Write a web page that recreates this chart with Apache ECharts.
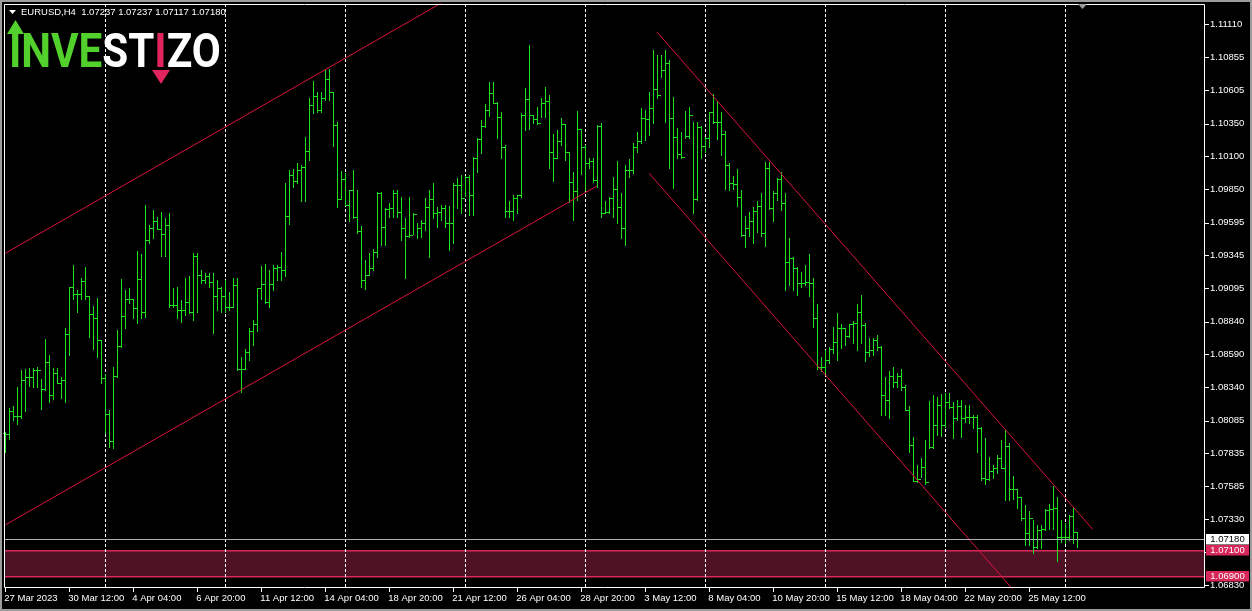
<!DOCTYPE html>
<html><head><meta charset="utf-8">
<script src="https://cdn.jsdelivr.net/npm/echarts@6/dist/echarts.min.js"></script>
<style>html,body{margin:0;padding:0;background:#000;}#c{width:1252px;height:611px;}</style>
</head><body><div id="c"></div>
<script>
// ---- data (EURUSD H4) ----
const symbolName = 'EURUSD,H4';
const highs = [1.07997,1.08180,1.08196,1.08341,1.08470,1.08478,1.08486,1.08486,1.08493,1.08402,
1.08707,1.08585,1.08486,1.08486,1.08417,1.08791,1.09104,1.09271,1.09081,1.09172,
1.09256,1.09035,1.08959,1.09020,1.08699,1.08440,1.08165,1.08493,1.08776,1.09165,
1.09081,1.09096,1.09012,1.09378,1.09355,1.09729,1.09577,1.09691,1.09638,1.09676,
1.09630,1.09668,1.09096,1.09104,1.09004,1.09172,1.09188,1.09363,1.09363,1.09233,
1.09210,1.09210,1.09210,1.09157,1.09104,1.09157,1.09065,1.09172,1.09172,1.08570,
1.08631,1.08791,1.08852,1.09096,1.09264,1.09279,1.09233,1.09271,1.09271,1.09371,
1.09897,1.09996,1.10004,1.10050,1.10034,1.10248,1.10546,1.10675,1.10591,1.10591,
1.10759,1.10767,1.10591,1.10362,1.09989,1.09973,1.09844,1.09996,1.09844,1.09569,
1.09310,1.09363,1.09394,1.09828,1.09828,1.09706,1.09744,1.09844,1.09844,1.09790,
1.09630,1.09790,1.09668,1.09592,1.09615,1.09783,1.09844,1.09897,1.09714,1.09729,
1.09729,1.09722,1.09897,1.09935,1.09958,1.09950,1.09958,1.10095,1.10240,1.10378,
1.10500,1.10668,1.10668,1.10515,1.10439,1.10187,1.09760,1.09805,1.09805,1.10431,
1.10622,1.10950,1.10416,1.10477,1.10546,1.10629,1.10568,1.10271,1.10301,1.10393,
1.10347,1.10134,1.09981,1.10446,1.10309,1.10187,1.10088,1.10088,1.10340,1.10355,
1.09760,1.09790,1.09943,1.10065,1.09821,1.10034,1.10080,1.10202,1.10286,1.10469,
1.10454,1.10591,1.10912,1.10874,1.10874,1.10912,1.10835,1.10553,1.10317,1.10286,
1.10446,1.10477,1.10362,1.10362,1.10332,1.10248,1.10439,1.10576,1.10523,1.10439,
1.10294,1.10050,1.09950,1.10004,1.09844,1.09645,1.09676,1.09714,1.09760,1.09821,
1.10057,1.10057,1.09836,1.09935,1.09981,1.09821,1.09477,1.09332,1.09256,1.09218,
1.09271,1.09355,1.09172,1.08974,1.08570,1.08623,1.08646,1.08798,1.08905,1.08821,
1.08791,1.08821,1.08844,1.08974,1.09043,1.08829,1.08715,1.08715,1.08737,1.08653,
1.08417,1.08463,1.08493,1.08448,1.08478,1.08356,1.08196,1.07959,1.07746,1.07799,
1.07936,1.08234,1.08280,1.08264,1.08287,1.08295,1.08295,1.08226,1.08241,1.08241,
1.08203,1.08203,1.08127,1.08127,1.08036,1.07952,1.07807,1.07746,1.07822,1.07936,
1.08013,1.07914,1.07662,1.07563,1.07502,1.07440,1.07395,1.07326,1.07288,1.07288,
1.07410,1.07448,1.07585,1.07502,1.07326,1.07303,1.07364,1.07425,1.07237];
const lows = [1.07845,1.07944,1.08089,1.08058,1.08104,1.08158,1.08348,1.08341,1.08341,1.08173,
1.08318,1.08226,1.08249,1.08371,1.08257,1.08226,1.08585,1.09012,1.08913,1.09012,
1.09012,1.08722,1.08631,1.08570,1.08371,1.07990,1.07883,1.07875,1.08417,1.08646,
1.08791,1.08982,1.08867,1.08829,1.08867,1.08875,1.09439,1.09477,1.09546,1.09340,
1.09340,1.08951,1.08951,1.08867,1.08837,1.08890,1.08905,1.08852,1.08913,1.09134,
1.09134,1.09104,1.08753,1.08928,1.08913,1.08913,1.08928,1.08951,1.08470,1.08303,
1.08478,1.08547,1.08661,1.08768,1.09012,1.08982,1.08951,1.09081,1.09157,1.09157,
1.09188,1.09584,1.09866,1.09897,1.09760,1.09760,1.10072,1.10431,1.10439,1.10439,
1.10530,1.10530,1.10179,1.09714,1.09775,1.09729,1.09607,1.09630,1.09516,1.09104,
1.09088,1.09195,1.09233,1.09332,1.09424,1.09424,1.09638,1.09638,1.09638,1.09462,
1.09172,1.09485,1.09508,1.09477,1.09485,1.09538,1.09332,1.09630,1.09561,1.09615,
1.09561,1.09386,1.09439,1.09706,1.09668,1.09798,1.09653,1.09653,1.09981,1.10126,
1.10324,1.10408,1.10507,1.10240,1.10088,1.09638,1.09638,1.09615,1.09668,1.09790,
1.10301,1.10309,1.10355,1.10347,1.10400,1.10400,1.10011,1.09912,1.10088,1.10187,
1.10072,1.09752,1.09615,1.09767,1.09966,1.09844,1.10011,1.09905,1.09866,1.09638,
1.09668,1.09668,1.09638,1.09592,1.09477,1.09424,1.09943,1.09973,1.10134,1.10202,
1.10225,1.10263,1.10355,1.10546,1.10706,1.10362,1.10011,1.09859,1.10088,1.10088,
1.10240,1.10240,1.09668,1.09767,1.10088,1.10134,1.10172,1.10355,1.10233,1.10111,
1.09851,1.09844,1.09851,1.09722,1.09493,1.09409,1.09493,1.09439,1.09523,1.09493,
1.09416,1.09699,1.09607,1.09767,1.09691,1.09081,1.09119,1.09081,1.09043,1.09104,
1.09119,1.09035,1.08798,1.08478,1.08463,1.08448,1.08524,1.08600,1.08547,1.08638,
1.08661,1.08722,1.08676,1.08623,1.08676,1.08539,1.08577,1.08585,1.08623,1.08127,
1.08127,1.08104,1.08341,1.08341,1.08318,1.08165,1.07845,1.07624,1.07616,1.07654,
1.07601,1.07875,1.07875,1.07975,1.07967,1.08036,1.08180,1.07952,1.08089,1.07959,
1.08074,1.08066,1.08028,1.07845,1.07631,1.07601,1.07631,1.07646,1.07685,1.07723,
1.07479,1.07479,1.07486,1.07418,1.07326,1.07135,1.07135,1.07074,1.07112,1.07112,
1.07250,1.07257,1.07257,1.07013,1.07158,1.07151,1.07173,1.07151,1.07117];
const closes = [1.07982,1.08158,1.08119,1.08119,1.08394,1.08417,1.08417,1.08470,1.08470,1.08325,
1.08531,1.08280,1.08448,1.08371,1.08394,1.08745,1.09104,1.09050,1.09050,1.09149,
1.09035,1.08898,1.08867,1.08699,1.08409,1.08135,1.07929,1.08425,1.08653,1.08882,
1.09012,1.09012,1.08943,1.09165,1.08913,1.09462,1.09554,1.09607,1.09546,1.09508,
1.09577,1.08966,1.08966,1.08928,1.08928,1.08989,1.08913,1.09340,1.09195,1.09157,
1.09188,1.09142,1.09035,1.09096,1.09035,1.08951,1.08951,1.09119,1.08478,1.08478,
1.08608,1.08768,1.08821,1.09096,1.09126,1.08989,1.09126,1.09249,1.09256,1.09233,
1.09645,1.09958,1.09912,1.09996,1.10019,1.10141,1.10492,1.10561,1.10454,1.10546,
1.10690,1.10591,1.10340,1.09775,1.09928,1.09729,1.09844,1.09638,1.09531,1.09157,
1.09195,1.09249,1.09371,1.09821,1.09561,1.09699,1.09706,1.09821,1.09676,1.09554,
1.09493,1.09500,1.09661,1.09554,1.09592,1.09714,1.09775,1.09668,1.09676,1.09706,
1.09592,1.09592,1.09882,1.09882,1.09783,1.09943,1.09805,1.10088,1.10233,1.10332,
1.10454,1.10584,1.10507,1.10400,1.10172,1.09683,1.09683,1.09783,1.09805,1.10416,
1.10538,1.10416,1.10385,1.10355,1.10507,1.10523,1.10134,1.10088,1.10217,1.10347,
1.10134,1.09905,1.09836,1.10309,1.10172,1.10050,1.10065,1.09920,1.10332,1.09668,
1.09676,1.09783,1.09851,1.09714,1.09554,1.09996,1.09996,1.10172,1.10217,1.10393,
1.10385,1.10469,1.10614,1.10568,1.10759,1.10813,1.10393,1.10248,1.10118,1.10095,
1.10256,1.10416,1.09775,1.10324,1.10179,1.10240,1.10439,1.10362,1.10362,1.10271,
1.10034,1.09897,1.09889,1.09790,1.09500,1.09554,1.09607,1.09683,1.09722,1.09516,
1.10011,1.09706,1.09821,1.09928,1.09744,1.09294,1.09325,1.09249,1.09134,1.09134,
1.09142,1.09134,1.08867,1.08493,1.08493,1.08547,1.08631,1.08684,1.08791,1.08791,
1.08730,1.08821,1.08829,1.08913,1.08814,1.08608,1.08623,1.08699,1.08646,1.08280,
1.08241,1.08425,1.08379,1.08425,1.08341,1.08165,1.07898,1.07624,1.07639,1.07730,
1.07616,1.07883,1.08051,1.08203,1.08051,1.08226,1.08188,1.08104,1.08196,1.08104,
1.08112,1.08112,1.08112,1.08028,1.07646,1.07639,1.07700,1.07723,1.07799,1.07723,
1.07891,1.07563,1.07563,1.07502,1.07341,1.07227,1.07341,1.07120,1.07250,1.07257,
1.07402,1.07410,1.07418,1.07196,1.07196,1.07196,1.07357,1.07237,1.07180];
const opens = [1.07990,1.07982,1.08158,1.08119,1.08119,1.08394,1.08417,1.08417,1.08470,1.08470,
1.08325,1.08531,1.08280,1.08448,1.08371,1.08394,1.08745,1.09104,1.09050,1.09050,
1.09149,1.09035,1.08898,1.08867,1.08699,1.08409,1.08135,1.07929,1.08425,1.08653,
1.08882,1.09012,1.09012,1.08943,1.09165,1.08913,1.09462,1.09554,1.09607,1.09546,
1.09508,1.09577,1.08966,1.08966,1.08928,1.08928,1.08989,1.08913,1.09340,1.09195,
1.09157,1.09188,1.09142,1.09035,1.09096,1.09035,1.08951,1.08951,1.09119,1.08478,
1.08478,1.08608,1.08768,1.08821,1.09096,1.09126,1.08989,1.09126,1.09249,1.09256,
1.09233,1.09645,1.09958,1.09912,1.09996,1.10019,1.10141,1.10492,1.10561,1.10454,
1.10546,1.10690,1.10591,1.10340,1.09775,1.09928,1.09729,1.09844,1.09638,1.09531,
1.09157,1.09195,1.09249,1.09371,1.09821,1.09561,1.09699,1.09706,1.09821,1.09676,
1.09554,1.09493,1.09500,1.09661,1.09554,1.09592,1.09714,1.09775,1.09668,1.09676,
1.09706,1.09592,1.09592,1.09882,1.09882,1.09783,1.09943,1.09805,1.10088,1.10233,
1.10332,1.10454,1.10584,1.10507,1.10400,1.10172,1.09683,1.09683,1.09783,1.09805,
1.10416,1.10538,1.10416,1.10385,1.10355,1.10507,1.10523,1.10134,1.10088,1.10217,
1.10347,1.10134,1.09905,1.09836,1.10309,1.10172,1.10050,1.10065,1.09920,1.10332,
1.09668,1.09676,1.09783,1.09851,1.09714,1.09554,1.09996,1.09996,1.10172,1.10217,
1.10393,1.10385,1.10469,1.10614,1.10568,1.10759,1.10813,1.10393,1.10248,1.10118,
1.10095,1.10256,1.10416,1.09775,1.10324,1.10179,1.10240,1.10439,1.10362,1.10362,
1.10271,1.10034,1.09897,1.09889,1.09790,1.09500,1.09554,1.09607,1.09683,1.09722,
1.09516,1.10011,1.09706,1.09821,1.09928,1.09744,1.09294,1.09325,1.09249,1.09134,
1.09134,1.09142,1.09134,1.08867,1.08493,1.08493,1.08547,1.08631,1.08684,1.08791,
1.08791,1.08730,1.08821,1.08829,1.08913,1.08814,1.08608,1.08623,1.08699,1.08646,
1.08280,1.08241,1.08425,1.08379,1.08425,1.08341,1.08165,1.07898,1.07624,1.07639,
1.07730,1.07616,1.07883,1.08051,1.08203,1.08051,1.08226,1.08188,1.08104,1.08196,
1.08104,1.08112,1.08112,1.08112,1.08028,1.07646,1.07639,1.07700,1.07723,1.07799,
1.07723,1.07891,1.07563,1.07563,1.07502,1.07341,1.07227,1.07341,1.07120,1.07250,
1.07257,1.07402,1.07410,1.07418,1.07196,1.07196,1.07196,1.07357,1.07237];

const xTickIndex = [0,16,32,48,64,80,96,112,128,144,160,176,192,208,224,240,256];
const xTickLabels = ['27 Mar 2023','30 Mar 12:00','4 Apr 04:00','6 Apr 20:00','11 Apr 12:00','14 Apr 04:00',
 '18 Apr 20:00','21 Apr 12:00','26 Apr 04:00','28 Apr 20:00','3 May 12:00','8 May 04:00','10 May 20:00',
 '15 May 12:00','18 May 04:00','22 May 20:00','25 May 12:00'];
const yTicks = [1.11110,1.10855,1.10605,1.10350,1.10100,1.09850,1.09595,1.09345,1.09095,
 1.08840,1.08590,1.08340,1.08085,1.07835,1.07585,1.07330,1.07080,1.06830];
const vGridIndex = [25,55,85,115,145,175,205,235,265];
const channelUpperAsc = [[0,1.09361],[110,1.11288]];
const channelLowerAsc = [[0,1.07288],[147.9,1.09874]];
const channelUpperDesc = [[162.85,1.11051],[271.85,1.07255]];
const channelLowerDesc = [[160.98,1.09971],[252,1.06792]];
const zoneTop = 1.07100, zoneBottom = 1.06900, bidPrice = 1.07180;

// ---- styles ----
const BAR = '#1ee21e', CRIMSON = '#dc143c', ZONE_FILL = '#4f1224', ZONE_LINE = '#d8285a', BID = '#a9b0b7';
const FONT = '"Liberation Sans", Arial, sans-serif';

const bars = highs.map((h, i) => [i, opens[i], closes[i], lows[i], h]);
const last = bars.length - 1;
const header = symbolName + '  ' + [opens[last], highs[last], lows[last], closes[last]].map(v => v.toFixed(5)).join(' ');

function barItem(params, api) {
  const i = api.value(0);
  const o = api.coord([i, api.value(1)]);
  const c = api.coord([i, api.value(2)]);
  const l = api.coord([i, api.value(3)]);
  const h = api.coord([i, api.value(4)]);
  const px = Math.round(o[0]);
  const x = px + 0.5;
  const yo = Math.round(o[1]) + 0.5, yc = Math.round(c[1]) + 0.5;
  return { type: 'group', children: [
    { type: 'rect', shape: { x: px, y: Math.round(h[1]), width: 1, height: Math.round(l[1]) - Math.round(h[1]) + 1 }, style: { fill: BAR } },
    { type: 'rect', shape: { x: px - 2, y: Math.round(o[1]), width: 2, height: 1 }, style: { fill: BAR } },
    { type: 'rect', shape: { x: px + 1, y: Math.round(c[1]), width: 2, height: 1 }, style: { fill: BAR } }
  ]};
}
function vGridItem(params, api) {
  const cs = params.coordSys;
  const x = Math.round(api.coord([api.value(0), 1.09])[0]) + 0.5;
  return { type: 'line', shape: { x1: x, y1: cs.y, x2: x, y2: cs.y + cs.height },
    style: { stroke: '#ffffff', lineWidth: 1, lineDash: [3, 2] } };
}
function yTickItem(params, api) {
  const cs = params.coordSys;
  const y = Math.round(api.coord([0, api.value(1)])[1]);
  return { type: 'rect', shape: { x: cs.x + cs.width + 1, y: y, width: 4, height: 1 }, style: { fill: '#ffffff' } };
}
function zoneItem(params, api) {
  const cs = params.coordSys;
  const yt = Math.round(api.coord([0, api.value(1)])[1]);
  const yb = Math.round(api.coord([0, api.value(2)])[1]);
  return { type: 'group', children: [
    { type: 'rect', shape: { x: cs.x, y: yt, width: cs.width, height: yb - yt }, style: { fill: ZONE_FILL } },
    { type: 'rect', shape: { x: cs.x, y: yt, width: cs.width, height: 1.4 }, style: { fill: ZONE_LINE } },
    { type: 'rect', shape: { x: cs.x, y: yb, width: cs.width, height: 1.4 }, style: { fill: ZONE_LINE } }
  ]};
}
function levelItem(params, api) {
  const cs = params.coordSys;
  const price = api.value(1);
  const kind = api.value(2);
  const y = Math.round(api.coord([0, price])[1]);
  const children = [];
  if (kind === 0) {
    children.push({ type: 'rect', shape: { x: cs.x, y: y, width: cs.width, height: 1 }, style: { fill: BID } });
  }
  const bx = cs.x + cs.width + 2;
  children.push({ type: 'rect', shape: { x: bx, y: y - 5, width: 43, height: 10.5 },
    style: { fill: kind === 0 ? '#ffffff' : ZONE_LINE } });
  children.push({ type: 'text', x: bx + 21.5, y: y + 0.5,
    style: { text: price.toFixed(5), fill: kind === 0 ? '#000000' : '#ffffff', font: '9.5px ' + FONT, align: 'center', verticalAlign: 'middle' } });
  return { type: 'group', children };
}

const chart = echarts.init(document.getElementById('c'), null, { renderer: 'canvas' });
chart.setOption({
  backgroundColor: '#000000',
  animation: false,
  grid: { left: 4, right: 48, top: 4, bottom: 23, show: false },
  xAxis: {
    type: 'value', min: -0.325, max: 299.675,
    axisLine: { show: false }, splitLine: { show: false },
    axisTick: { show: true, customValues: xTickIndex, length: 4, lineStyle: { color: '#ffffff' } },
    axisLabel: { customValues: xTickIndex, formatter: v => xTickLabels[xTickIndex.indexOf(v)] || '',
      color: '#ffffff', fontSize: 9.5, fontFamily: FONT, align: 'left', margin: 5, padding: [0, 0, 0, -1] }
  },
  yAxis: {
    type: 'value', position: 'right', min: 1.06807, max: 1.11263,
    axisLine: { show: false }, splitLine: { show: false },
    axisTick: { show: false },
    axisLabel: { customValues: yTicks, formatter: v => v.toFixed(5), color: '#ffffff', fontSize: 9.5, fontFamily: FONT, margin: 6 }
  },
  series: [
    { type: 'custom', name: 'zone', renderItem: zoneItem, data: [[0, zoneTop, zoneBottom]], encode: { x: 0, y: 1 }, z: 1, silent: true },
    { type: 'custom', name: 'vgrid', renderItem: vGridItem, data: vGridIndex.map(v => [v, 1.09]), encode: { x: 0, y: 1 }, z: 2, silent: true },
    { type: 'custom', name: 'yticks', renderItem: yTickItem, data: yTicks.map(v => [0, v]), encode: { x: 0, y: 1 }, z: 2, silent: true },
    { type: 'custom', name: 'EURUSD', renderItem: barItem, data: bars, encode: { x: 0, y: [1, 2, 3, 4] }, z: 3, silent: true },
    { type: 'line', data: channelUpperAsc, symbol: 'none', lineStyle: { color: CRIMSON, width: 1 }, z: 4, silent: true },
    { type: 'line', data: channelLowerAsc, symbol: 'none', lineStyle: { color: CRIMSON, width: 1 }, z: 4, silent: true },
    { type: 'line', data: channelUpperDesc, symbol: 'none', lineStyle: { color: CRIMSON, width: 1 }, z: 4, silent: true },
    { type: 'line', data: channelLowerDesc, symbol: 'none', lineStyle: { color: CRIMSON, width: 1 }, z: 4, silent: true },
    { type: 'custom', name: 'levels', renderItem: levelItem,
      data: [[0, bidPrice, 0], [0, zoneTop, 1], [0, zoneBottom, 1]], encode: { x: 0, y: 1 }, z: 6, silent: true }
  ],
  graphic: [
    { type: 'rect', shape: { x: 1, y: 1, width: 1250, height: 609 }, style: { fill: 'none', stroke: '#9c9c9c', lineWidth: 2 }, silent: true, z: 100 },
    { type: 'rect', shape: { x: 4.5, y: 4.5, width: 1200, height: 583 }, style: { fill: 'none', stroke: '#ffffff', lineWidth: 1 }, silent: true, z: 100 },
    { type: 'polygon', shape: { points: [[1078, 4], [1087, 4], [1082.5, 9]] }, style: { fill: '#9a9a9a' }, silent: true, z: 100 },
    { type: 'polygon', shape: { points: [[9, 10], [16, 10], [12.5, 14]] }, style: { fill: '#ffffff' }, silent: true, z: 100 },
    { type: 'text', x: 21, y: 12.5, style: { text: header, fill: '#ffffff', font: '9.5px ' + FONT, verticalAlign: 'middle' }, silent: true, z: 100 },
    { type: 'polygon', shape: { points: [[7, 34], [15.5, 20], [24, 34]] }, style: { fill: '#52d12c' }, silent: true, z: 100 },
    { type: 'text', x: 9, y: 55, scaleX: 0.86,
      style: { text: '{g|INVE}{w|ST}{r|I}{w|ZO}', font: 'bold 49px Roboto', verticalAlign: 'middle',
        rich: { g: { fill: '#52d12c', font: 'bold 49px Roboto' }, w: { fill: '#ffffff', font: 'bold 49px Roboto' }, r: { fill: '#e0245e', font: 'bold 49px Roboto' } } },
      silent: true, z: 100 },
    { type: 'polygon', shape: { points: [[152, 70], [170, 70], [161, 84]] }, style: { fill: '#e0245e' }, silent: true, z: 100 }
  ]
});
</script>
</body></html>
